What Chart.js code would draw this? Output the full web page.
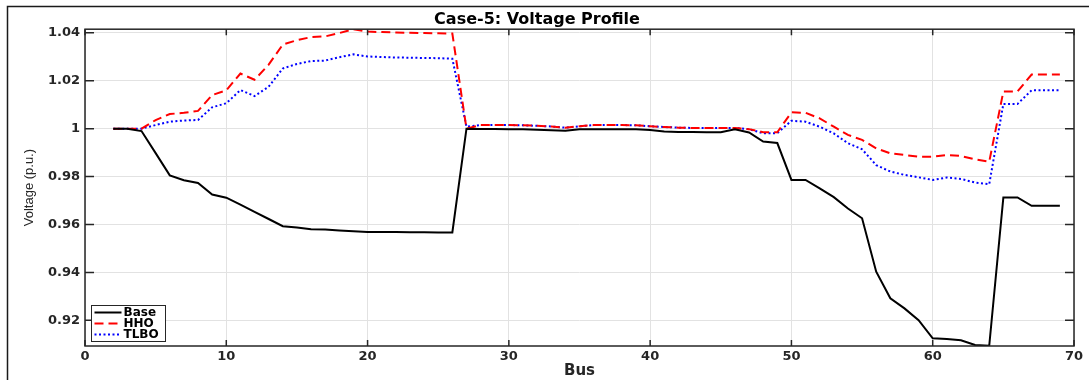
<!DOCTYPE html>
<html>
<head>
<meta charset="utf-8">
<script src="https://cdn.jsdelivr.net/npm/chart.js@4.4.1/dist/chart.umd.min.js"></script>
<style>
  html, body { margin: 0; padding: 0; background: #fff; }
  #wrap { width: 1089px; height: 380px; }
</style>
</head>
<body>
<div id="wrap"><canvas id="voltage-chart" width="1089" height="380"></canvas></div>
<script>
// bus numbers on the x axis
const buses = [2, 3, 4, 5, 6, 7, 8, 9, 10, 11, 12, 13, 14, 15, 16, 17, 18, 19, 20,
  21, 22, 23, 24, 25, 26, 27, 28, 29, 30, 31, 32, 33, 34, 35, 36, 37, 38, 39, 40,
  41, 42, 43, 44, 45, 46, 47, 48, 49, 50, 51, 52, 53, 54, 55, 56, 57, 58, 59, 60,
  61, 62, 63, 64, 65, 66, 67, 68, 69];

const baseVoltage = [1.0, 1.0, 0.999, 0.9898, 0.9805, 0.9785, 0.9773, 0.9725, 0.9712,
  0.9683, 0.9653, 0.9623, 0.9593, 0.9587, 0.958, 0.9579, 0.9575, 0.9572, 0.9569,
  0.9569, 0.9569, 0.9568, 0.9568, 0.9567, 0.9567, 1.0, 0.9999, 0.9999, 0.9998,
  0.9997, 0.9995, 0.9993, 0.9991, 0.9997, 0.9998, 0.9998, 0.9998, 0.9998, 0.9994,
  0.9988, 0.9986, 0.9986, 0.9985, 0.9985, 0.9997, 0.9984, 0.9946, 0.994, 0.9786,
  0.9786, 0.9751, 0.9714, 0.9667, 0.9626, 0.9403, 0.9292, 0.925, 0.9201, 0.9125,
  0.9122, 0.9117, 0.9097, 0.9094, 0.9713, 0.9713, 0.9678, 0.9678, 0.9678];

const hhoVoltage = [1.0, 1.0, 1.0, 1.0036, 1.0061, 1.0066, 1.0074, 1.014, 1.016,
  1.023, 1.0204, 1.0267, 1.0351, 1.0369, 1.0382, 1.0385, 1.0399, 1.0415, 1.0405,
  1.0403, 1.0401, 1.04, 1.0399, 1.0398, 1.0397, 1.0, 1.0015, 1.0015, 1.0015,
  1.0014, 1.0012, 1.0009, 1.0004, 1.001, 1.0015, 1.0015, 1.0015, 1.0014, 1.001,
  1.0007, 1.0004, 1.0003, 1.0003, 1.0003, 1.0003, 0.9998, 0.9985, 0.9985, 1.0068,
  1.0066, 1.0043, 1.0008, 0.9974, 0.9953, 0.9918, 0.9897, 0.989, 0.9883, 0.9883,
  0.989, 0.9886, 0.9872, 0.9862, 1.0155, 1.0155, 1.0226, 1.0226, 1.0226];

const tlboVoltage = [1.0, 1.0, 1.0, 1.0015, 1.0029, 1.0034, 1.0036, 1.0089, 1.0106,
  1.0161, 1.0136, 1.0175, 1.0251, 1.027, 1.0282, 1.0284, 1.0298, 1.031, 1.0301,
  1.0299, 1.0297, 1.0296, 1.0295, 1.0294, 1.0292, 1.0008, 1.0015, 1.0015, 1.0015,
  1.0014, 1.0012, 1.0009, 1.0004, 1.001, 1.0015, 1.0015, 1.0015, 1.0014, 1.001,
  1.0007, 1.0004, 1.0003, 1.0003, 1.0003, 1.0003, 0.9998, 0.9981, 0.9981, 1.0033,
  1.0029, 1.0008, 0.998, 0.9939, 0.9914, 0.9848, 0.9821, 0.9807, 0.9797, 0.9786,
  0.9796, 0.979, 0.9775, 0.9768, 1.0103, 1.0103, 1.016, 1.016, 1.016];

const yTicks = [0.92, 0.94, 0.96, 0.98, 1.0, 1.02, 1.04];
const xTicks = [0, 10, 20, 30, 40, 50, 60, 70];

const axisColor = "#262626";
const boldFont = "'DejaVu Sans', sans-serif";

function toPoints(values) {
  return buses.map((bus, i) => ({ x: bus, y: values[i] }));
}

// MATLAB-like box, inward ticks and the legend in the lower left
const matlabAxes = {
  id: "matlabAxes",
  beforeDraw(chart) {
    const ctx = chart.ctx;
    ctx.save();
    ctx.fillStyle = "#fff";
    ctx.fillRect(0, 0, chart.width, chart.height);
    ctx.strokeStyle = "#1a1a1a";
    ctx.lineWidth = 1.5;
    ctx.strokeRect(7.5, 6.5, chart.width, chart.height);
    ctx.restore();
  },
  afterDraw(chart) {
    const { ctx, chartArea: a, scales } = chart;
    ctx.save();
    ctx.strokeStyle = axisColor;
    ctx.lineWidth = 1.5;
    ctx.strokeRect(a.left, a.top, a.right - a.left, a.bottom - a.top);

    ctx.beginPath();
    scales.x.ticks.forEach((t) => {
      const px = scales.x.getPixelForValue(t.value);
      ctx.moveTo(px, a.bottom);
      ctx.lineTo(px, a.bottom - 6);
      ctx.moveTo(px, a.top);
      ctx.lineTo(px, a.top + 6);
    });
    scales.y.ticks.forEach((t) => {
      const py = scales.y.getPixelForValue(t.value);
      ctx.moveTo(a.left, py);
      ctx.lineTo(a.left + 9, py);
      ctx.moveTo(a.right, py);
      ctx.lineTo(a.right - 9, py);
    });
    ctx.stroke();

    // legend
    const sets = chart.data.datasets;
    const rowH = 11;
    const boxX = a.left + 6.5;
    const boxW = 74;
    const boxH = sets.length * rowH + 3;
    const boxY = a.bottom - 4.5 - boxH;
    ctx.fillStyle = "#fff";
    ctx.fillRect(boxX, boxY, boxW, boxH);
    ctx.lineWidth = 1;
    ctx.strokeStyle = axisColor;
    ctx.strokeRect(boxX, boxY, boxW, boxH);
    ctx.font = "bold 12px " + boldFont;
    ctx.textBaseline = "middle";
    sets.forEach((ds, i) => {
      const cy = boxY + 7 + i * rowH;
      ctx.beginPath();
      ctx.setLineDash(ds.borderDash || []);
      ctx.strokeStyle = ds.borderColor;
      ctx.lineWidth = ds.borderWidth;
      ctx.moveTo(boxX + 3, cy);
      ctx.lineTo(boxX + 30, cy);
      ctx.stroke();
      ctx.setLineDash([]);
      ctx.fillStyle = "#000";
      ctx.fillText(ds.label, boxX + 32, cy + 0.5);
    });
    ctx.restore();
  },
};

const ctxVoltage = document.getElementById("voltage-chart").getContext("2d");
new Chart(ctxVoltage, {
  type: "line",
  data: {
    datasets: [
      {
        label: "Base",
        data: toPoints(baseVoltage),
        borderColor: "#000000",
        borderWidth: 2,
        pointRadius: 0,
        tension: 0,
      },
      {
        label: "HHO",
        data: toPoints(hhoVoltage),
        borderColor: "#ff0000",
        borderWidth: 2,
        borderDash: [9, 5],
        pointRadius: 0,
        tension: 0,
      },
      {
        label: "TLBO",
        data: toPoints(tlboVoltage),
        borderColor: "#0000ff",
        borderWidth: 2,
        borderDash: [2, 2.5],
        pointRadius: 0,
        tension: 0,
      },
    ],
  },
  options: {
    responsive: false,
    animation: false,
    layout: { padding: { left: 0, right: 15, top: 0, bottom: 0 } },
    plugins: {
      legend: { display: false },
      tooltip: { enabled: false },
      title: {
        display: true,
        text: "Case-5: Voltage Profile",
        color: "#000",
        font: { family: boldFont, weight: "bold", size: 16 },
        padding: { top: 10, bottom: 0 },
      },
    },
    scales: {
      x: {
        type: "linear",
        min: 0,
        max: 70,
        afterBuildTicks: (scale) => {
          scale.ticks = xTicks.map((v) => ({ value: v }));
        },
        afterFit: (scale) => {
          scale.height = 34;
        },
        grid: { color: "#e2e2e2", lineWidth: 1, drawTicks: false },
        border: { display: false },
        ticks: {
          color: axisColor,
          padding: 3,
          maxRotation: 0,
          font: { family: boldFont, weight: "bold", size: 13 },
        },
        title: {
          display: true,
          text: "Bus",
          color: axisColor,
          font: { family: boldFont, weight: "bold", size: 15 },
          padding: { top: 0, bottom: 0 },
        },
      },
      y: {
        min: 0.9093,
        max: 1.0415,
        afterBuildTicks: (scale) => {
          scale.ticks = yTicks.map((v) => ({ value: v }));
        },
        afterFit: (scale) => {
          scale.width = 85;
        },
        grid: { color: "#e2e2e2", lineWidth: 1, drawTicks: false },
        border: { display: false },
        ticks: {
          color: axisColor,
          padding: 5,
          font: { family: boldFont, weight: "bold", size: 13 },
          callback: (v) => parseFloat(v.toFixed(2)).toString(),
        },
        title: {
          display: true,
          text: "Voltage (p.u.)",
          color: axisColor,
          font: { family: "'Liberation Sans', Arial, sans-serif", size: 13 },
          padding: { top: 22, bottom: 0 },
        },
      },
    },
  },
  plugins: [matlabAxes],
});
</script>
</body>
</html>
